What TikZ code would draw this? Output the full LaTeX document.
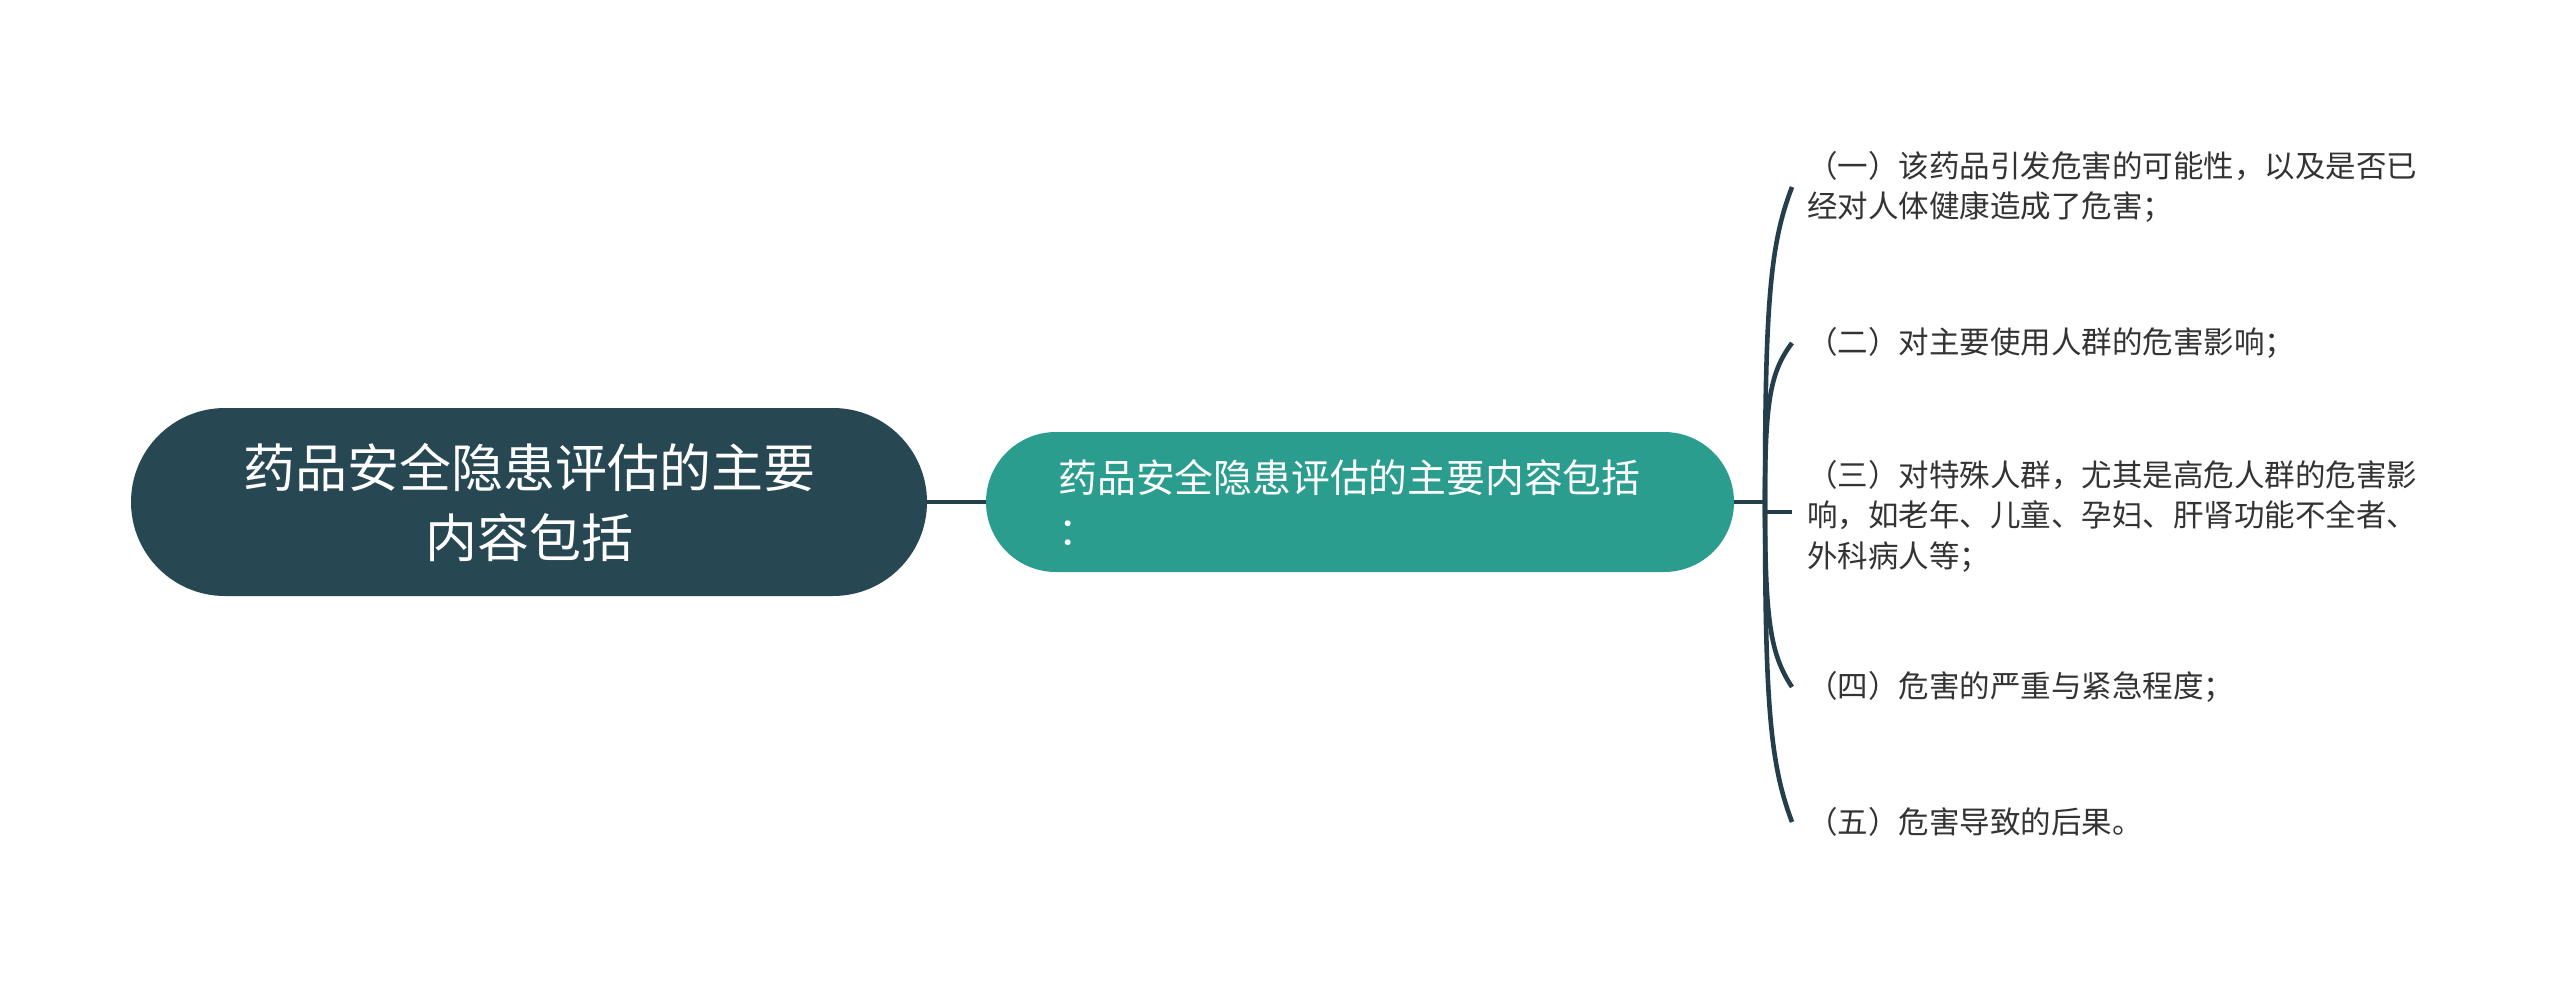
\documentclass[tikz,border=0pt]{standalone}
\usepackage{fontspec}
\newfontfamily\cjk{Noto Sans CJK SC}
\definecolor{rootc}{HTML}{274753}
\definecolor{midc}{HTML}{2A9D8F}
\definecolor{linec}{HTML}{243F4B}
\definecolor{leafc}{HTML}{333333}
\begin{document}
\begin{tikzpicture}[x=0.5pt,y=-0.5pt,
  rootbox/.style={fill=rootc, minimum width=398pt, minimum height=94pt, rounded corners=47pt,
    inner sep=0pt, text=white, align=center, font=\fontsize{26pt}{35pt}\cjk},
  midbox/.style={fill=midc, minimum width=374pt, minimum height=70pt, rounded corners=35pt, inner sep=0pt},
  midtext/.style={anchor=west, inner sep=0pt, text=white, align=left, font=\fontsize{19.4pt}{26.5pt}\cjk},
  leaftext/.style={anchor=west, inner sep=0pt, text=leafc, align=left, font=\fontsize{15.25pt}{20.25pt}\cjk},
  conn/.style={draw=linec, line width=2.3pt}]
\useasboundingbox[fill=white] (0,0) rectangle (2560,985);

\node[rootbox] (root) at (529,502) {药品安全隐患评估的主要\\内容包括};
\node[midbox] (mid) at (1360,502) {};
\node[midtext] (midt) at (1058,503) {药品安全隐患评估的主要内容包括\\：};

\node[leaftext] (l1) at (1807,187) {（一）该药品引发危害的可能性，以及是否已\\经对人体健康造成了危害；};
\node[leaftext] (l2) at (1807,343) {（二）对主要使用人群的危害影响；};
\node[leaftext] (l3) at (1807,516) {（三）对特殊人群，尤其是高危人群的危害影\\响，如老年、儿童、孕妇、肝肾功能不全者、\\外科病人等；};
\node[leaftext] (l4) at (1807,687) {（四）危害的严重与紧急程度；};
\node[leaftext] (l5) at (1807,822) {（五）危害导致的后果。};

\coordinate (j) at (1765,502);
\coordinate (j3) at (1765,512);
\coordinate (e1) at (1792,187);
\coordinate (e2) at (1792,343);
\coordinate (e3) at (1792,512);
\coordinate (e4) at (1792,687);
\coordinate (e5) at (1792,822);

\draw[conn] (root.east) -- (mid.west);
\draw[conn] (mid.east) -- (j);
\draw[conn] (j) .. controls (1765,304) and (1770,244) .. (e1);
\draw[conn] (j) .. controls (1765,402) and (1770,372) .. (e2);
\draw[conn] (j) -- (j3) -- (e3);
\draw[conn] (j) .. controls (1765,619) and (1770,654) .. (e4);
\draw[conn] (j) .. controls (1765,704) and (1770,764) .. (e5);
\end{tikzpicture}
\end{document}
